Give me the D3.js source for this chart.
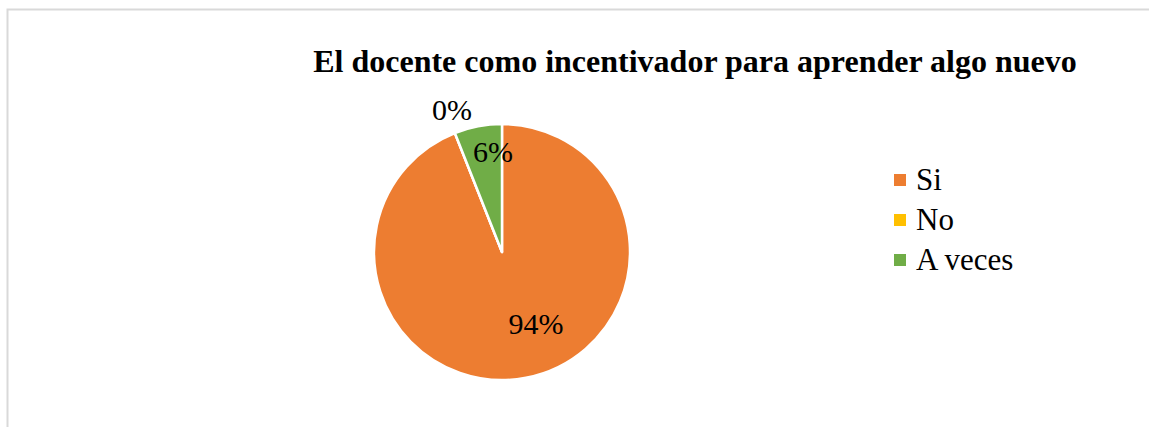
<!DOCTYPE html>
<html>
<head>
<meta charset="utf-8">
<script src="https://cdn.jsdelivr.net/npm/d3@7"></script>
<style>
  body { margin: 0; background: #fff; }
</style>
</head>
<body>
<script>
// chart data
var categories = ["Si", "No", "A veces"];
var values = [94, 0, 6];
var labels = ["94%", "0%", "6%"];
var colors = ["#ed7d31", "#ffc000", "#70ad47"];

var width = 1149, height = 427;
var serif = "'Liberation Serif', 'DejaVu Serif', 'Times New Roman', Times, serif";

var svg = d3.select("body")
    .append("svg")
    .attr("width", width)
    .attr("height", height)
    .style("font-family", serif);

// chart area border (runs past the window on the right / bottom)
svg.append("rect")
    .attr("x", 7.5)
    .attr("y", 9.5)
    .attr("width", 1160)
    .attr("height", 440)
    .attr("fill", "#fff")
    .attr("stroke", "#d9d9d9")
    .attr("stroke-width", 2);

svg.append("text")
    .attr("x", 695)
    .attr("y", 72)
    .attr("text-anchor", "middle")
    .attr("font-family", serif)
    .attr("font-size", 32)
    .attr("font-weight", "bold")
    .text("El docente como incentivador para aprender algo nuevo");

var cx = 502, cy = 252, r = 128;

var pie = d3.pie().sort(null).value(function (d) { return d; });
var arcs = pie(values);
var arc = d3.arc().innerRadius(0).outerRadius(r);

var g = svg.append("g")
    .attr("transform", "translate(" + cx + "," + cy + ")");

g.selectAll("path")
    .data(arcs)
    .enter().append("path")
    .attr("d", arc)
    .attr("fill", function (d, i) { return colors[i]; })
    .attr("stroke", "#fff")
    .attr("stroke-width", 2.5)
    .attr("stroke-linejoin", "round");

// data labels (placed like the spreadsheet did; baseline offsets)
var labelPos = [[34, 82], [-50, -132], [-9, -90]];

g.selectAll(".lbl")
    .data(arcs)
    .enter().append("text")
    .attr("class", "lbl")
    .attr("transform", function (d, i) { return "translate(" + labelPos[i] + ")"; })
    .attr("text-anchor", "middle")
    .attr("font-family", serif)
    .attr("font-size", 30)
    .text(function (d, i) { return labels[i]; });

// legend
var legend = svg.append("g")
    .attr("transform", "translate(894,174)");

var item = legend.selectAll(".item")
    .data(categories)
    .enter().append("g")
    .attr("class", "item")
    .attr("transform", function (d, i) { return "translate(0," + i * 40 + ")"; });

item.append("rect")
    .attr("width", 12)
    .attr("height", 12)
    .attr("fill", function (d, i) { return colors[i]; });

item.append("text")
    .attr("x", 22)
    .attr("y", 16)
    .attr("font-family", serif)
    .attr("font-size", 31)
    .text(function (d) { return d; });
</script>
</body>
</html>
